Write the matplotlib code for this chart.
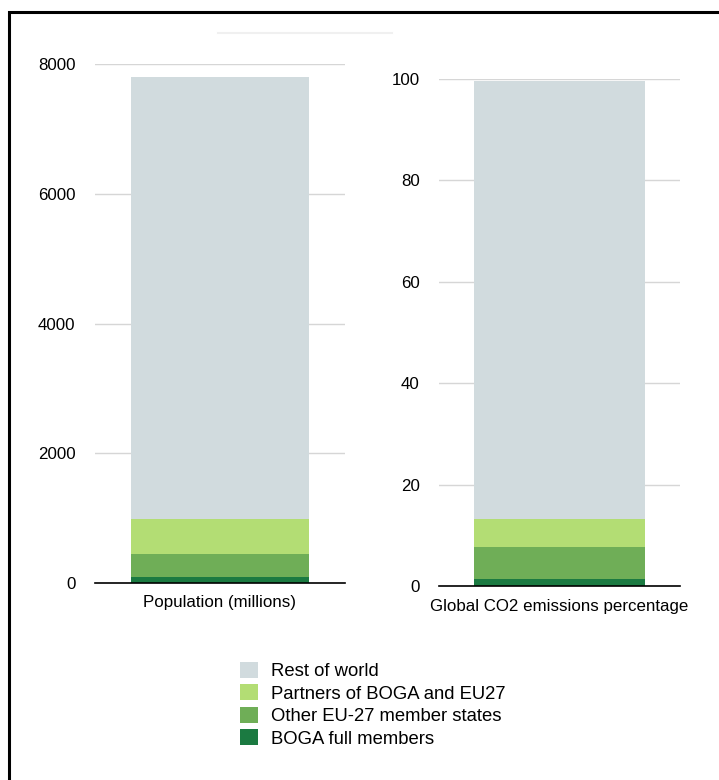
import matplotlib.pyplot as plt
from matplotlib.lines import Line2D

plt.rcParams['font.family'] = ['Liberation Sans', 'DejaVu Sans']

series = ['BOGA full members', 'Other EU-27 member states',
          'Partners of BOGA and EU27', 'Rest of world']
colors = ['#1b7a41', '#6fae57', '#b3dd74', '#d1dbde']

population = [90, 360, 540, 6810]        # millions, stacked segments
co2 = [1.4, 6.3, 5.5, 86.4]              # percent, stacked segments

fig = plt.figure(figsize=(7.19, 7.80), dpi=100)

ax1 = fig.add_axes([0.132, 1 - 583 / 780, 250 / 719, 519 / 780])
ax2 = fig.add_axes([439 / 719, 1 - 586 / 780, 241 / 719, 507 / 780])


def stack(ax, values, label, ymax, ticks):
    bottom = 0
    handles = []
    for v, c, s in zip(values, colors, series):
        h = ax.bar(0, v, width=0.71, bottom=bottom, color=c, label=s, zorder=2)
        handles.append(h)
        bottom += v
    ax.set_xlim(-0.5, 0.5)
    ax.set_ylim(0, ymax)
    ax.set_yticks(ticks)
    ax.set_xticks([0])
    ax.set_xticklabels([label])
    ax.tick_params(axis='y', length=0, pad=14, labelsize=12.2)
    ax.tick_params(axis='x', length=0, pad=9, labelsize=12.2)
    for sp in ['top', 'right', 'left']:
        ax.spines[sp].set_visible(False)
    ax.spines['bottom'].set_color('black')
    ax.spines['bottom'].set_linewidth(1.2)
    ax.spines['bottom'].set_zorder(3)
    ax.yaxis.grid(True, color='#d6d6d6', linewidth=1)
    ax.set_axisbelow(True)
    return handles


handles = stack(ax1, population, 'Population (millions)', 8000,
                [0, 2000, 4000, 6000, 8000])
stack(ax2, co2, 'Global CO2 emissions percentage', 100,
      [0, 20, 40, 60, 80, 100])

fig.legend(handles[::-1], series[::-1], loc='upper left',
           bbox_to_anchor=(240 / 719, 1 - 662 / 780), frameon=False,
           fontsize=13.3, handlelength=0.98, handleheight=0.93,
           handletextpad=0.7, labelspacing=0.23, borderpad=0,
           borderaxespad=0)

# faint line near top and the screenshot frame
fig.add_artist(Line2D([218 / 719, 392 / 719], [1 - 33 / 780, 1 - 33 / 780],
                      color='#f0f0f0', linewidth=1.5))
fig.add_artist(Line2D([9 / 719, 9 / 719, 1.0], [0.0, 1 - 12 / 780, 1 - 12 / 780],
                      color='black', linewidth=2.2, solid_joinstyle='miter'))

fig.savefig('out.png', dpi=100)
